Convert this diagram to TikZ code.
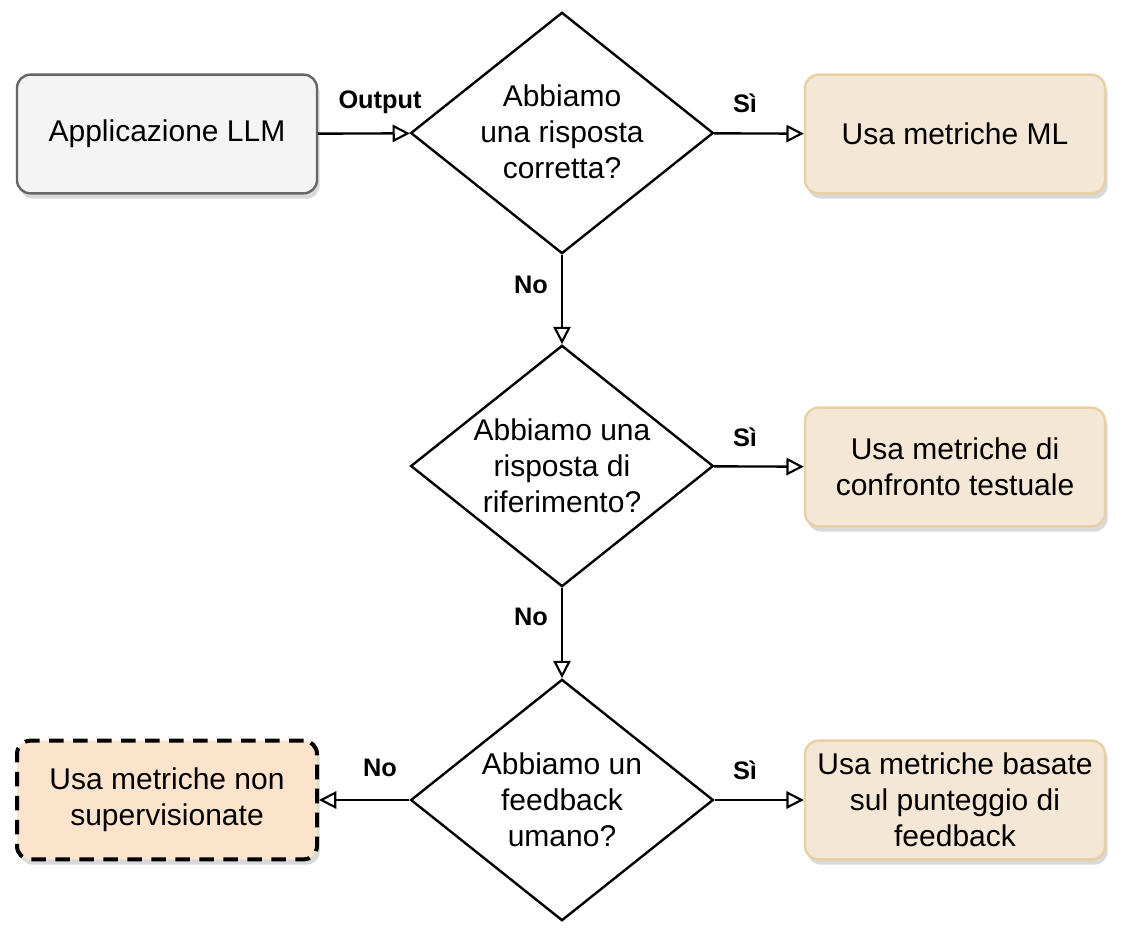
\documentclass[tikz,border=0pt]{standalone}
\usepackage{fontspec}
\setmainfont{Liberation Sans}
\usetikzlibrary{shapes.geometric,arrows.meta,shadows}
\definecolor{grayfill}{HTML}{F4F4F4}
\definecolor{grayline}{HTML}{666666}
\definecolor{beige}{HTML}{F4E7D6}
\definecolor{beigeline}{HTML}{E8CFA4}
\definecolor{peach}{HTML}{FCE4CC}
\begin{document}
\begin{tikzpicture}[x=0.75pt,y=-0.75pt,
  box/.style={rectangle,rounded corners=10pt,minimum width=225pt,minimum height=89pt,align=center,font=\fontsize{22.5}{27}\selectfont,line width=1.8pt,
    drop shadow={shadow xshift=2pt,shadow yshift=-4pt,opacity=0.25,fill=black!60}},
  gbox/.style={box,fill=grayfill,draw=grayline},
  bbox/.style={box,fill=beige,draw=beigeline},
  dbox/.style={box,fill=peach,draw=black,dash pattern=on 11pt off 7pt,line width=3pt},
  dia/.style={diamond,draw=black,line width=1.8pt,minimum width=227pt,minimum height=181pt,inner sep=0pt,aspect=1.25,fill=white},
  dtext/.style={align=center,font=\fontsize{22.5}{27}\selectfont},
  arr/.style={line width=1.8pt,-{Triangle[open,length=13pt,width=13pt,line width=1.6pt]}},
  lab/.style={font=\bfseries\fontsize{19}{22}\selectfont}]
\useasboundingbox (0,0) rectangle (1126,944);
\node[gbox] (app) at (167,134) {Applicazione LLM};
\node[dia] (d1) at (562,133) {};
\node[dtext] at (562,132) {Abbiamo\\una risposta\\corretta?};
\node[bbox] (ml) at (955,134) {Usa metriche ML};
\node[dia] (d2) at (562,466) {};
\node[dtext] at (562,466) {Abbiamo una\\risposta di\\riferimento?};
\node[bbox] (tx) at (955,467) {Usa metriche di\\confronto testuale};
\node[dia] (d3) at (562,800) {};
\node[dtext] at (562,800) {Abbiamo un\\feedback\\umano?};
\node[bbox] (fb) at (955,800) {Usa metriche basate\\sul punteggio di\\feedback};
\node[dbox] (ns) at (167,800) {Usa metriche non\\supervisionate};
\draw[arr] (app) -- (d1);
\draw[arr] (d1) -- (ml);
\draw[arr] (d1) -- (d2);
\draw[arr] (d2) -- (tx);
\draw[arr] (d2) -- (d3);
\draw[arr] (d3) -- (fb);
\draw[arr] (d3) -- (ns);
\node[lab] (l1) at (380,102) {Output};
\node[lab] (l2) at (745,103) {Sì};
\node[lab] (l3) at (531,285) {No};
\node[lab] (l4) at (745,437) {Sì};
\node[lab] (l5) at (531,617) {No};
\node[lab] (l6) at (745,770) {Sì};
\node[lab] (l7) at (380,768) {No};
\end{tikzpicture}
\end{document}
